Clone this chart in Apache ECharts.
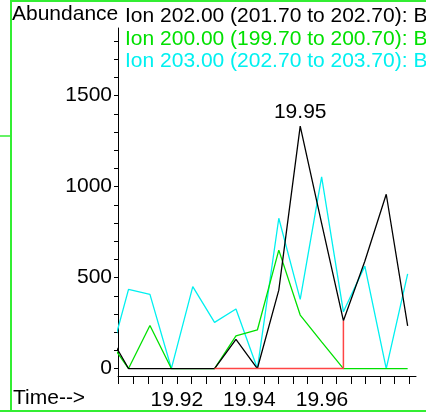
<!DOCTYPE html>
<html>
<head>
<meta charset="utf-8">
<script src="https://cdn.jsdelivr.net/npm/echarts@6/dist/echarts.min.js"></script>
<style>
  html, body { margin: 0; padding: 0; background: #fff; }
  #main { width: 426px; height: 413px; }
</style>
</head>
<body>
<div id="main"></div>
<script>
// 保留时间 (min)，第一个点在坐标轴左侧，被裁掉
var times = [19.9008, 19.9067, 19.9126, 19.9185, 19.9244, 19.9304, 19.9363, 19.9422,
             19.9481, 19.9540, 19.9599, 19.9659, 19.9718, 19.9777, 19.9836];
var ion202 = [205, 0, 0, 0, 0, 0, 160, 0, 431, 1333, 798, 263, 590, 958, 234];
var ion200 = [169, 0, 237, 0, 0, 0, 180, 212, 651, 294, 147, 0, 0, 0, 0];
var ion203 = [0, 435, 408, 0, 450, 254, 327, 0, 826, 380, 1054, 312, 563, 0, 520];
var ionNames = ['Ion 202.00 (201.70 to 202.70): BLANK02.D\\data.ms',
                'Ion 200.00 (199.70 to 200.70): BLANK02.D\\data.ms',
                'Ion 203.00 (202.70 to 203.70): BLANK02.D\\data.ms'];
var ionColors = ['#000000', '#00e000', '#00f0f0'];
// 积分基线：起点、终点索引
var baseStart = 5, baseEnd = 11;
var peakIndex = 9, peakLabel = '19.95';

var xLabels = [19.92, 19.94, 19.96];
var xMajor = [19.92, 19.94, 19.96, 19.98];
var xMinor = [19.904, 19.908, 19.912, 19.916, 19.924, 19.928, 19.932, 19.936,
              19.944, 19.948, 19.952, 19.956, 19.964, 19.968, 19.972, 19.976, 19.984];
var yLabels = [0, 500, 1000, 1500];
var yMinor = [100, 200, 300, 400, 600, 700, 800, 900, 1100, 1200, 1300, 1400, 1600, 1700, 1800];

var FONT = '"Liberation Sans", Arial, sans-serif';
var FS = 21;

function pairs(vals) {
    var out = [];
    for (var i = 0; i < times.length; i++) {
        out.push([times[i], vals[i]]);
    }
    return out;
}

var baseData = [[times[baseStart], 0], [times[baseEnd], 0], [times[baseEnd], ion202[baseEnd]]];

var xRange = { min: 19.9038, max: 19.9859 };
var yRange = { min: -41, max: 1872 };

var myChart = echarts.init(document.getElementById('main'), null, { renderer: 'canvas' });

myChart.setOption({
    animation: false,
    grid: { left: 118, right: 10, top: 28, bottom: 37, containLabel: false },
    xAxis: {
        type: 'value', min: xRange.min, max: xRange.max, position: 'bottom',
        axisLine: { show: true, onZero: false, lineStyle: { color: '#000', width: 1 } },
        axisTick: { show: true, customValues: xMajor.concat(xMinor), length: 8, lineStyle: { color: '#000' } },
        axisLabel: { customValues: xLabels, margin: 14, color: '#000', fontSize: FS, fontFamily: FONT,
                     formatter: function (v) { return v.toFixed(2); } },
        splitLine: { show: false }
    },
    yAxis: {
        type: 'value', min: yRange.min, max: yRange.max, position: 'left',
        axisLine: { show: true, onZero: false, lineStyle: { color: '#000', width: 1 } },
        axisTick: { show: true, customValues: yLabels.concat(yMinor), length: 4, lineStyle: { color: '#000' } },
        axisLabel: { customValues: yLabels, margin: 6, color: '#000', fontSize: FS, fontFamily: FONT,
                     formatter: function (v) { return String(v); } },
        splitLine: { show: false }
    },
    series: [
        { name: ionNames[2], type: 'line', data: pairs(ion203), symbol: 'none',
          lineStyle: { color: ionColors[2], width: 1.3 }, itemStyle: { color: ionColors[2] } },
        { name: ionNames[1], type: 'line', data: pairs(ion200), symbol: 'none',
          lineStyle: { color: ionColors[1], width: 1.3 }, itemStyle: { color: ionColors[1] } },
        { name: ionNames[0], type: 'line', data: pairs(ion202), symbol: 'none',
          lineStyle: { color: ionColors[0], width: 1.3 }, itemStyle: { color: ionColors[0] },
          markPoint: {
              symbol: 'circle', symbolSize: 0, silent: true,
              label: { show: true, position: 'top', distance: 3, formatter: peakLabel,
                       color: '#000', fontSize: FS, fontFamily: FONT },
              data: [{ coord: [times[peakIndex], ion202[peakIndex]] }]
          } },
        { name: 'baseline', type: 'line', data: baseData, symbol: 'none',
          lineStyle: { color: '#ff4444', width: 1.5 }, itemStyle: { color: '#ff4444' } }
    ],
    graphic: [
        { type: 'rect', shape: { x: 11, y: 1, width: 430, height: 410 },
          style: { fill: 'none', stroke: '#33ee33', lineWidth: 2 }, silent: true },
        { type: 'line', shape: { x1: 0, y1: 411, x2: 12, y2: 411 },
          style: { stroke: '#33ee33', lineWidth: 2 }, silent: true },
        { type: 'line', shape: { x1: 0, y1: 136, x2: 10, y2: 136 },
          style: { stroke: '#33ee33', lineWidth: 1.5 }, silent: true },
        { type: 'text', left: 12, top: 4,
          style: { text: 'Abundance', fill: '#000', font: FS + 'px ' + FONT } },
        { type: 'text', left: 125, top: 6,
          style: { text: ionNames[0], fill: ionColors[0], font: FS + 'px ' + FONT } },
        { type: 'text', left: 125, top: 29,
          style: { text: ionNames[1], fill: ionColors[1], font: FS + 'px ' + FONT } },
        { type: 'text', left: 125, top: 51,
          style: { text: ionNames[2], fill: ionColors[2], font: FS + 'px ' + FONT } },
        { type: 'text', left: 13, top: 388,
          style: { text: 'Time-->', fill: '#000', font: FS + 'px ' + FONT } }
    ]
});
</script>
</body>
</html>
